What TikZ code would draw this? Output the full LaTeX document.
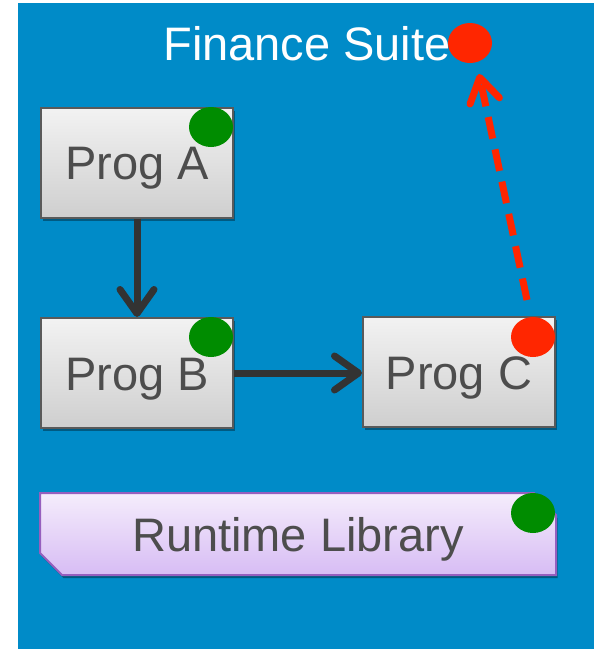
\documentclass[tikz,border=0pt]{standalone}
\usepackage{fontspec}
\setmainfont{Liberation Sans}
\usetikzlibrary{arrows.meta,shapes.geometric,shapes.misc,shadows}
\definecolor{bgblue}{RGB}{0,139,200}
\definecolor{txtgray}{RGB}{77,77,77}
\definecolor{boxline}{RGB}{90,90,90}
\definecolor{dotgreen}{RGB}{0,140,0}
\definecolor{dotred}{RGB}{255,38,0}
\definecolor{arrdark}{RGB}{51,51,51}
\definecolor{libline}{RGB}{150,95,190}
\definecolor{libtop}{RGB}{245,237,252}
\definecolor{libbot}{RGB}{215,188,244}
\tikzset{
  progbox/.style={rectangle, draw=boxline, line width=2pt, top color=white!95!black, bottom color=white!81!black,
    minimum width=192pt, minimum height=110pt, inner sep=0pt, text=txtgray,
    font=\fontsize{47}{56}\selectfont, text height=34pt, text depth=0pt,
    drop shadow={shadow xshift=1.5pt, shadow yshift=-3pt, opacity=0.35, fill=black}},
  libbox/.style={chamfered rectangle, chamfered rectangle corners={north east, south west},
    chamfered rectangle xsep=11pt, chamfered rectangle ysep=11pt,
    draw=libline, line width=2pt, top color=libtop, bottom color=libbot,
    minimum width=516pt, minimum height=82pt, inner sep=0pt, text=txtgray,
    font=\fontsize{47}{56}\selectfont, text height=34pt, text depth=0pt,
    drop shadow={shadow xshift=1.5pt, shadow yshift=-3pt, opacity=0.35, fill=black}},
  dot/.style={ellipse, minimum width=44pt, minimum height=40pt, inner sep=0pt, draw=none},
  darr/.style={draw=arrdark, line width=7pt, -{Straight Barb[length=24pt, width=34pt, round]}},
  rarr/.style={draw=dotred, line width=7pt, dash pattern=on 22pt off 11pt, -{Straight Barb[length=24pt, width=30pt, round]}}
}
\begin{document}
\begin{tikzpicture}[x=1pt,y=-1pt]
\useasboundingbox (0,0) rectangle (594,649);
\fill[bgblue] (18,3) rectangle (594,649);
\node[anchor=base, text=white, font=\fontsize{47}{56}\selectfont] (title) at (307,60) {Finance Suite};
\node[dot, fill=dotred] (tdot) at (470,43) {};
\node[progbox] (A) at (137,162.5) {Prog A};
\node[progbox] (B) at (137,373) {Prog B};
\node[progbox] (C) at (459,372) {Prog C};
\node[libbox] (L) at (298,534) {Runtime Library};
\node[dot, fill=dotgreen] (ga) at (211,127) {};
\node[dot, fill=dotgreen] (gb) at (211,337) {};
\node[dot, fill=dotred] (rc) at (533,337) {};
\node[dot, fill=dotgreen] (gl) at (533,513) {};
\draw[darr] (A.south) -- (B.north);
\draw[darr] (B.east) -- (B.east -| C.west);
\coordinate (cs) at (527,300);
\coordinate (ct) at (479,74);
\draw[rarr] (cs) -- (ct);
\end{tikzpicture}
\end{document}
